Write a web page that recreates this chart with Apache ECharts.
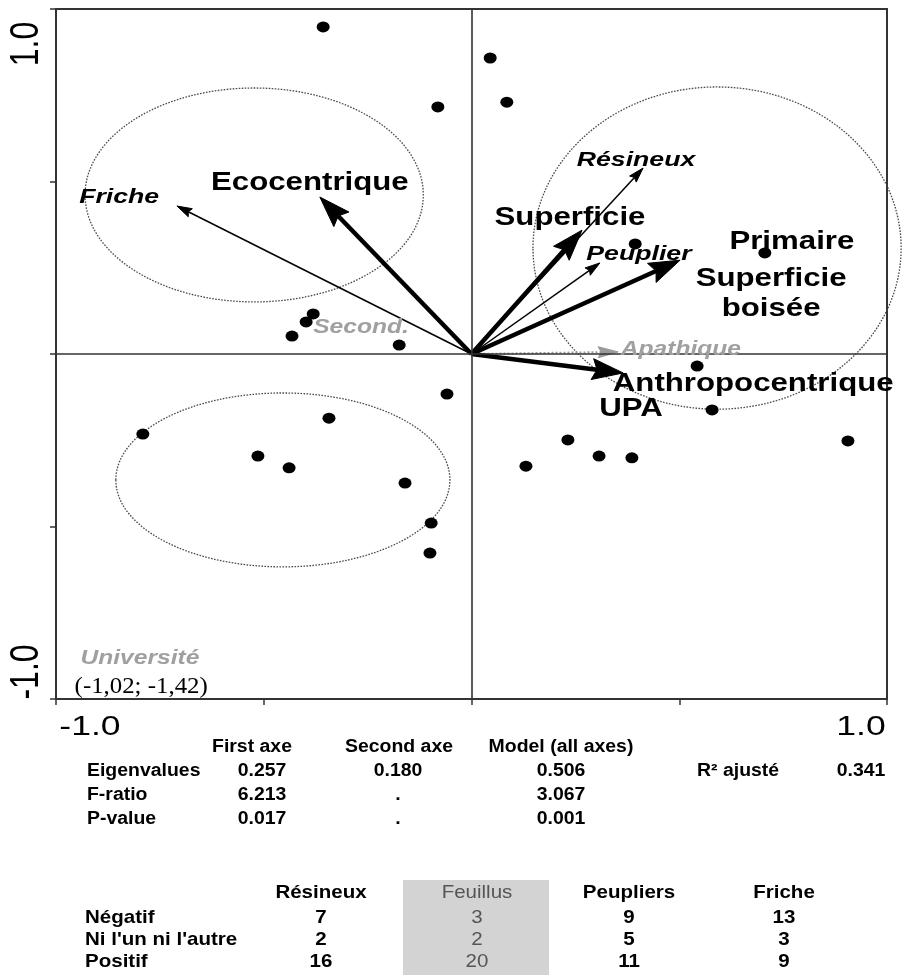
<!DOCTYPE html>
<html>
<head>
<meta charset="utf-8">
<script src="https://cdn.jsdelivr.net/npm/echarts@6/dist/echarts.min.js"></script>
<style>
html,body{margin:0;padding:0;background:#fff;}
#chart{width:902px;height:975px;}
</style>
</head>
<body>
<div id="chart"></div>
<script>
// ---------- DATA ----------
// axis ticks and tick labels
const axisTicks = [-1, -0.5, 0, 0.5, 1];
const xTickLabelValues = [-1, 1];
const xTickLabels = ['-1.0', '1.0'];
const yTickLabelValues = [1, -1];
const yTickLabels = ['1.0', '-1.0'];

// site scores (points)
const siteX = [-0.357, 0.045, -0.081, 0.085, -0.432, -0.398, -0.381, -0.174, 0.394, 0.706,
               0.543, 0.579, 0.906, 0.232, 0.307, 0.386, 0.131, -0.059, -0.343, -0.791,
               -0.514, -0.439, -0.160, -0.097, -0.100];
const siteY = [0.948, 0.858, 0.716, 0.730, 0.052, 0.093, 0.116, 0.026, 0.319, 0.293,
               -0.035, -0.162, -0.252, -0.249, -0.296, -0.301, -0.325, -0.116, -0.186, -0.232,
               -0.296, -0.330, -0.374, -0.490, -0.577];

// variable arrows (tips)
const arrowNames = ['Friche', 'Ecocentrique', 'Résineux', 'Superficie', 'Peuplier', 'Superficie boisée', 'Apathique', 'Anthropocentrique'];
const arrowX = [-0.709, -0.365, 0.413, 0.266, 0.309, 0.502, 0.353, 0.365];
const arrowY = [0.429, 0.455, 0.539, 0.359, 0.264, 0.272, 0.006, -0.055];
const arrowKind = ['thin', 'thick', 'thin', 'thick', 'thin', 'thick', 'gray', 'thick'];

// text labels in the biplot
const labelTexts = ['Friche', 'Ecocentrique', 'Résineux', 'Superficie', 'Peuplier', 'Primaire',
                    'Superficie\nboisée', 'Apathique', 'Anthropocentrique', 'UPA', 'Second.', 'Université', '(-1,02; -1,42)'];
const labelX = [-0.848, -0.389, 0.396, 0.237, 0.403, 0.771, 0.721, 0.504, 0.678, 0.384, -0.266, -0.798, -0.795];
const labelY = [0.455, 0.496, 0.562, 0.394, 0.290, 0.325, 0.174, 0.014, -0.087, -0.159, 0.078, -0.881, -0.965];
const labelKind = ['italic', 'bold', 'italic', 'bold', 'italic', 'bold', 'bold', 'grayItalic', 'bold', 'bold', 'grayItalic', 'grayItalic', 'serif'];

// group ellipses
const ellipseCX = [-0.523, 0.591, -0.454];
const ellipseCY = [0.461, 0.307, -0.365];
const ellipseRX = [0.407, 0.443, 0.402];
const ellipseRY = [0.310, 0.467, 0.252];

// statistics table
const statsHeaders = ['First axe', 'Second axe', 'Model (all axes)'];
const statsRows = ['Eigenvalues', 'F-ratio', 'P-value'];
const statsFirst = ['0.257', '6.213', '0.017'];
const statsSecond = ['0.180', '.', '.'];
const statsModel = ['0.506', '3.067', '0.001'];
const r2Label = 'R² ajusté';
const r2Value = '0.341';

// attitude table
const attitudeHeaders = ['Résineux', 'Feuillus', 'Peupliers', 'Friche'];
const attitudeRows = ['Négatif', "Ni l'un ni l'autre", 'Positif'];
const attResineux = [7, 2, 16];
const attFeuillus = [3, 2, 20];
const attPeupliers = [9, 5, 11];
const attFriche = [13, 3, 9];

// ---------- CHART ----------
const FONT = '"Liberation Sans", Arial, Helvetica, sans-serif';
const chart = echarts.init(document.getElementById('chart'), null, {renderer: 'canvas'});

const points = siteX.map((x, i) => [x, siteY[i]]);
const arrows = arrowX.map((x, i) => [x, arrowY[i]]);
const labels = labelX.map((x, i) => [x, labelY[i]]);
const ellipses = ellipseCX.map((x, i) => [x, ellipseCY[i], ellipseRX[i], ellipseRY[i]]);
const xTickData = xTickLabelValues.map(v => [v, -1]);
const yTickData = yTickLabelValues.map(v => [-1, v]);

const labelStyles = {
  bold: {font: 'bold 26px ' + FONT, fill: '#000', scaleX: 1.2},
  italic: {font: 'italic bold 21px ' + FONT, fill: '#000', scaleX: 1.27},
  grayItalic: {font: 'italic bold 21px ' + FONT, fill: '#a0a0a0', scaleX: 1.17},
  serif: {font: '23px "Liberation Serif", "Times New Roman", serif', fill: '#000', scaleX: 1.08}
};
const arrowStyles = {
  thick: {w: 4.5, headLen: 31, headW: 21, color: '#000', dash: null},
  thin: {w: 1.5, headLen: 15, headW: 9, color: '#000', dash: null},
  gray: {w: 2, headLen: 20, headW: 11, color: '#9a9a9a', dash: [2, 2]}
};

function renderArrow(params, api) {
  const st = arrowStyles[arrowKind[params.dataIndex]];
  const o = api.coord([0, 0]);
  const t = api.coord([api.value(0), api.value(1)]);
  const dx = t[0] - o[0], dy = t[1] - o[1];
  const len = Math.sqrt(dx * dx + dy * dy);
  const ux = dx / len, uy = dy / len, px = -uy, py = ux;
  const bx = t[0] - ux * st.headLen, by = t[1] - uy * st.headLen;
  const nx = t[0] - ux * st.headLen * 0.85, ny = t[1] - uy * st.headLen * 0.85;
  const hw = st.headW / 2;
  return {
    type: 'group',
    children: [
      {type: 'line', shape: {x1: o[0], y1: o[1], x2: nx, y2: ny},
       style: {stroke: st.color, lineWidth: st.w, lineDash: st.dash, fill: null}},
      {type: 'polygon', shape: {points: [[t[0], t[1]], [bx + px * hw, by + py * hw], [nx, ny], [bx - px * hw, by - py * hw]]},
       style: {fill: st.color, stroke: st.color, lineWidth: 1}}
    ]
  };
}

function renderEllipse(params, api) {
  const c = api.coord([api.value(0), api.value(1)]);
  const s = api.size([api.value(2), api.value(3)]);
  return {type: 'ellipse', shape: {cx: c[0], cy: c[1], rx: s[0], ry: s[1]},
          style: {fill: null, stroke: '#4a4a4a', lineWidth: 1.3, lineDash: [1.6, 1.4]}};
}

function renderLabel(params, api) {
  const p = api.coord([api.value(0), api.value(1)]);
  const st = labelStyles[labelKind[params.dataIndex]];
  return {type: 'text', x: p[0], y: p[1], scaleX: st.scaleX,
          style: {text: labelTexts[params.dataIndex], font: st.font, fill: st.fill,
                  align: 'center', verticalAlign: 'middle', lineHeight: 30}};
}

function renderXTick(params, api) {
  const p = api.coord([api.value(0), api.value(1)]);
  const off = params.dataIndex === 0 ? 34 : -26;
  return {type: 'text', x: p[0] + off, y: p[1] + 28, scaleX: 1.27,
          style: {text: xTickLabels[params.dataIndex], font: '28px ' + FONT, fill: '#000',
                  align: 'center', verticalAlign: 'middle'}};
}

function renderYTick(params, api) {
  const p = api.coord([api.value(0), api.value(1)]);
  const off = params.dataIndex === 0 ? 35 : -27;
  return {type: 'text', x: p[0] - 29, y: p[1] + off, rotation: Math.PI / 2, scaleY: 1.25,
          style: {text: yTickLabels[params.dataIndex], font: '32px ' + FONT, fill: '#000',
                  align: 'center', verticalAlign: 'middle'}};
}

// tables (graphic)
const graphics = [];
const tFont1 = 'bold 18px ' + FONT;
const tFont2 = 'bold 19px ' + FONT;
function txt(x, y, text, font, align, fill, sx) {
  graphics.push({type: 'text', x: x, y: y, scaleX: sx || 1.08, z: 10,
    style: {text: text, font: font, fill: fill || '#000', align: align || 'center', verticalAlign: 'middle'}});
}
const statsHeadX = [252, 399, 561];
const statsValX = [262, 398, 561];
const statsRowY = [771, 795, 819];
statsHeaders.forEach((h, i) => txt(statsHeadX[i], 747, h, tFont1));
statsRows.forEach((r, i) => {
  txt(87, statsRowY[i], r, tFont1, 'left');
  txt(statsValX[0], statsRowY[i], statsFirst[i], tFont1);
  txt(statsValX[1], statsRowY[i], statsSecond[i], tFont1);
  txt(statsValX[2], statsRowY[i], statsModel[i], tFont1);
});
txt(697, statsRowY[0], r2Label, tFont1, 'left');
txt(861, statsRowY[0], r2Value, tFont1);

graphics.push({type: 'rect', shape: {x: 403, y: 880, width: 146, height: 95}, style: {fill: '#d3d3d3'}, z: 5});
const attColX = [321, 477, 629, 784];
const attRowY = [918, 940, 962];
attitudeHeaders.forEach((h, i) => txt(attColX[i], 893, h, i === 1 ? '19px ' + FONT : tFont2, 'center', i === 1 ? '#555' : '#000'));
const attCols = [attResineux, attFeuillus, attPeupliers, attFriche];
attitudeRows.forEach((r, i) => {
  txt(85, attRowY[i], r, tFont2, 'left');
  attCols.forEach((col, j) => txt(attColX[j], attRowY[i], String(col[i]), j === 1 ? '19px ' + FONT : tFont2, 'center', j === 1 ? '#555' : '#000'));
});

const axisCommon = {
  type: 'value', min: -1, max: 1, interval: 0.5,
  axisLine: {show: true, onZero: false, lineStyle: {color: '#333', width: 2}},
  axisTick: {show: true, inside: false, length: 6, lineStyle: {color: '#333', width: 1.5}},
  axisLabel: {show: false},
  splitLine: {show: false}
};

chart.setOption({
  animation: false,
  backgroundColor: '#fff',
  grid: {left: 56, right: 15, top: 9, bottom: 276, show: true, borderColor: '#333', borderWidth: 2, backgroundColor: 'transparent'},
  xAxis: Object.assign({}, axisCommon, {position: 'bottom'}),
  yAxis: Object.assign({}, axisCommon, {position: 'left'}),
  graphic: graphics,
  series: [
    {type: 'custom', name: 'ellipses', renderItem: renderEllipse, data: ellipses, z: 1, silent: true, clip: false},
    {type: 'scatter', name: 'sites', data: points, symbol: 'circle', symbolSize: [13, 11],
     itemStyle: {color: '#000', opacity: 1}, z: 3, silent: true,
     markLine: {silent: true, symbol: 'none', label: {show: false},
       lineStyle: {color: '#333', width: 1.6, type: 'solid', opacity: 1},
       data: [{xAxis: 0}, {yAxis: 0}]}},
    {type: 'custom', name: 'arrows', renderItem: renderArrow, data: arrows, z: 4, silent: true, clip: false},
    {type: 'custom', name: 'labels', renderItem: renderLabel, data: labels, z: 5, silent: true, clip: false},
    {type: 'custom', name: 'xTickLabels', renderItem: renderXTick, data: xTickData, z: 5, silent: true, clip: false},
    {type: 'custom', name: 'yTickLabels', renderItem: renderYTick, data: yTickData, z: 5, silent: true, clip: false}
  ]
});
</script>
</body>
</html>
